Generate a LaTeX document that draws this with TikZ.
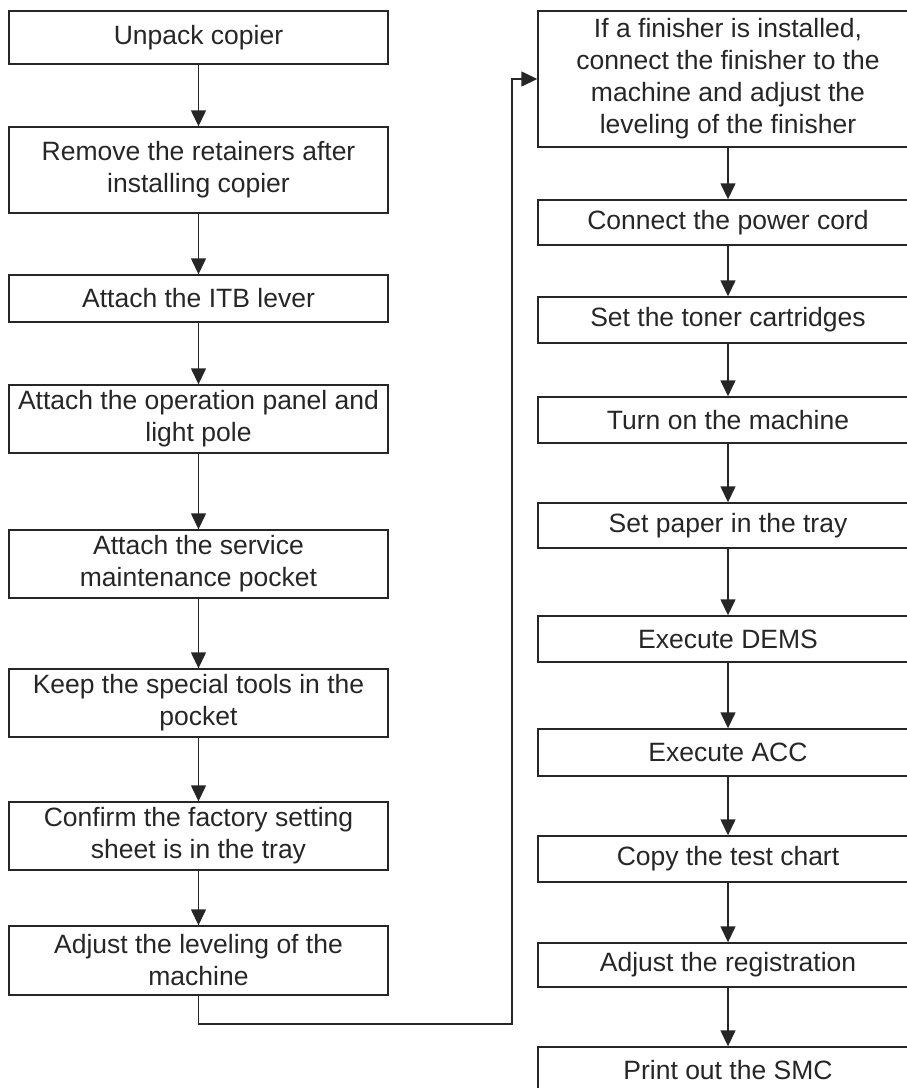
\documentclass[tikz,border=0pt]{standalone}
\usepackage{fontspec}
\setmainfont{Liberation Sans}
\usetikzlibrary{arrows.meta}
\definecolor{ink}{HTML}{262626}
\begin{document}
\begin{tikzpicture}[x=1pt,y=-1pt,
  box/.style={draw=ink, line width=1.4pt, rectangle, inner sep=0pt, align=center,
    text=ink, font=\fontsize{26.5}{32}\selectfont, minimum width=379pt},
  flow/.style={draw=ink, line width=1.4pt, -{Triangle[length=16pt,width=15pt]}}
]
\clip (0,0) rectangle (907,1088);
% left column
\node[box, minimum height=53pt] (L1) at (198.5,37.5) {Unpack copier};
\node[box, minimum height=86pt] (L2) at (198.5,170) {Remove the retainers after\\installing copier};
\node[box, minimum height=47pt] (L3) at (198.5,298.5) {Attach the ITB lever};
\node[box, minimum height=68pt] (L4) at (198.5,419) {Attach the operation panel and\\light pole};
\node[box, minimum height=68pt] (L5) at (198.5,564) {Attach the service\\maintenance pocket};
\node[box, minimum height=68pt] (L6) at (198.5,703) {Keep the special tools in the\\pocket};
\node[box, minimum height=68pt] (L7) at (198.5,836) {Confirm the factory setting\\sheet is in the tray};
\node[box, minimum height=69pt] (L8) at (198.5,960.5) {Adjust the leveling of the\\machine};
% right column
\node[box, minimum width=380pt, minimum height=136pt] (R1) at (728,79) {If a finisher is installed,\\connect the finisher to the\\machine and adjust the\\leveling of the finisher};
\node[box, minimum width=380pt, minimum height=45pt] (R2) at (728,222.5) {Connect the power cord};
\node[box, minimum width=380pt, minimum height=46pt] (R3) at (728,320) {Set the toner cartridges};
\node[box, minimum width=380pt, minimum height=46pt] (R4) at (728,420) {Turn on the machine};
\node[box, minimum width=380pt, minimum height=45pt] (R5) at (728,525.5) {Set paper in the tray};
\node[box, minimum width=380pt, minimum height=46pt] (R6) at (728,639) {Execute DEMS};
\node[box, minimum width=380pt, minimum height=47pt] (R7) at (728,752.5) {Execute ACC};
\node[box, minimum width=380pt, minimum height=46pt] (R8) at (728,859) {Copy the test chart};
\node[box, minimum width=380pt, minimum height=44pt] (R9) at (728,965) {Adjust the registration};
\node[box, minimum width=380pt, minimum height=46pt] (R10) at (728,1070) {Print out the SMC};
% connectors
\foreach \a/\b in {L1/L2,L2/L3,L3/L4,L4/L5,L5/L6,L6/L7,L7/L8,R1/R2,R2/R3,R3/R4,R4/R5,R5/R6,R6/R7,R7/R8,R8/R9,R9/R10}
  \draw[flow] (\a.south) -- (\b.north);
\coordinate (turn) at (512,1024);
\draw[flow] (L8.south) |- (turn) |- (R1.west);
\end{tikzpicture}
\end{document}
